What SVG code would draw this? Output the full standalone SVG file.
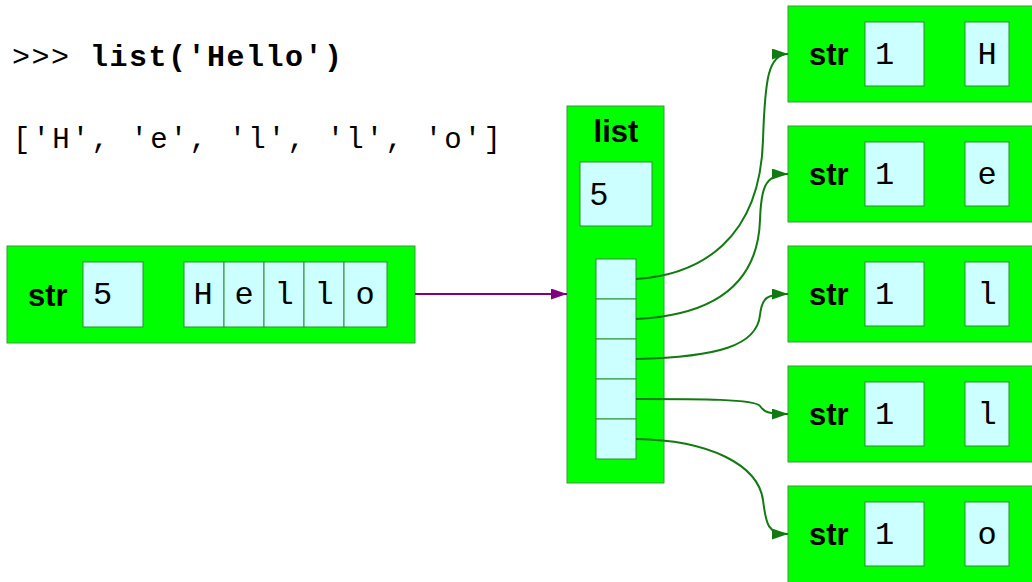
<svg xmlns="http://www.w3.org/2000/svg" width="1032" height="582" viewBox="0 0 1032 582">
<style>
.obj{fill:#00ff00;stroke:#3a9a3a;stroke-width:1}
.cell{fill:#ccffff;stroke:#2f8f2f;stroke-width:1}
.lbl{font-family:"Liberation Sans",Arial,sans-serif;font-weight:bold;font-size:31px;fill:#000}
.mono{font-family:"Liberation Mono","Courier New",monospace;font-size:32px;fill:#000}
.code{font-family:"Liberation Mono","Courier New",monospace;font-size:29px;letter-spacing:2.2px;fill:#000}
.num{font-family:"Liberation Sans",Arial,sans-serif;font-size:32px;fill:#000}
.ref{fill:none;stroke:#117a11;stroke-width:2}
</style>
<defs>
<marker id="ga" markerUnits="userSpaceOnUse" markerWidth="17" markerHeight="12" refX="16" refY="5.5" orient="auto"><path d="M0,0 L16,5.5 L0,11 z" fill="#117a11"/></marker>
<marker id="pa" markerUnits="userSpaceOnUse" markerWidth="17" markerHeight="12" refX="16" refY="5.5" orient="auto"><path d="M0,0 L16,5.5 L0,11 z" fill="#800080"/></marker>
</defs>
<g id="prompt">
<text class="code" x="12" y="66" style="font-size:30px;letter-spacing:1.5px">&gt;&gt;&gt; <tspan font-weight="bold">list('Hello')</tspan></text>
<text class="code" x="13" y="148">['H', 'e', 'l', 'l', 'o']</text>
</g>
<g id="str-hello">
<rect class="obj" x="7" y="246" width="408" height="97"/>
<text class="lbl" x="28" y="306">str</text>
<rect class="cell" x="83" y="262" width="60" height="65"/>
<text class="mono" x="93" y="304">5</text>
<rect class="cell" x="184" y="262" width="40" height="65"/>
<rect class="cell" x="224" y="262" width="40" height="65"/>
<rect class="cell" x="264" y="262" width="40" height="65"/>
<rect class="cell" x="304" y="262" width="40" height="65"/>
<rect class="cell" x="344" y="262" width="43" height="65"/>
<text class="mono" x="203" y="304" text-anchor="middle">H</text>
<text class="mono" x="244" y="304" text-anchor="middle">e</text>
<text class="mono" x="284" y="304" text-anchor="middle">l</text>
<text class="mono" x="324" y="304" text-anchor="middle">l</text>
<text class="mono" x="365" y="304" text-anchor="middle">o</text>
</g>
<g id="list">
<rect class="obj" x="567" y="106" width="97" height="377"/>
<text class="lbl" x="616" y="142" text-anchor="middle">list</text>
<rect class="cell" x="580" y="162" width="72" height="64"/>
<text class="num" x="590" y="205">5</text>
<rect class="cell" x="596" y="259" width="40" height="40"/>
<rect class="cell" x="596" y="299" width="40" height="40"/>
<rect class="cell" x="596" y="339" width="40" height="40"/>
<rect class="cell" x="596" y="379" width="40" height="40"/>
<rect class="cell" x="596" y="419" width="40" height="40"/>
</g>
<g id="str-H">
<rect class="obj" x="788" y="6" width="260" height="96"/>
<text class="lbl" x="809" y="65">str</text>
<rect class="cell" x="865" y="22" width="59" height="64"/>
<text class="mono" x="875" y="64">1</text>
<rect class="cell" x="965" y="22" width="44" height="64"/>
<text class="mono" x="987" y="64" text-anchor="middle">H</text>
</g>
<g id="str-e">
<rect class="obj" x="788" y="126" width="260" height="96"/>
<text class="lbl" x="809" y="185">str</text>
<rect class="cell" x="865" y="142" width="59" height="64"/>
<text class="mono" x="875" y="184">1</text>
<rect class="cell" x="965" y="142" width="44" height="64"/>
<text class="mono" x="987" y="184" text-anchor="middle">e</text>
</g>
<g id="str-l1">
<rect class="obj" x="788" y="246" width="260" height="96"/>
<text class="lbl" x="809" y="305">str</text>
<rect class="cell" x="865" y="262" width="59" height="64"/>
<text class="mono" x="875" y="304">1</text>
<rect class="cell" x="965" y="262" width="44" height="64"/>
<text class="mono" x="987" y="304" text-anchor="middle">l</text>
</g>
<g id="str-l2">
<rect class="obj" x="788" y="366" width="260" height="96"/>
<text class="lbl" x="809" y="425">str</text>
<rect class="cell" x="865" y="382" width="59" height="64"/>
<text class="mono" x="875" y="424">1</text>
<rect class="cell" x="965" y="382" width="44" height="64"/>
<text class="mono" x="987" y="424" text-anchor="middle">l</text>
</g>
<g id="str-o">
<rect class="obj" x="788" y="486" width="260" height="110"/>
<text class="lbl" x="809" y="545">str</text>
<rect class="cell" x="865" y="502" width="59" height="64"/>
<text class="mono" x="875" y="544">1</text>
<rect class="cell" x="965" y="502" width="44" height="64"/>
<text class="mono" x="987" y="544" text-anchor="middle">o</text>
</g>
<g id="connectors">
<line x1="415" y1="294" x2="567" y2="294" stroke="#800080" stroke-width="2" marker-end="url(#pa)"/>
<path class="ref" d="M636,279 C700,275 760,240 763,140 C765,80 768,54 788,54" marker-end="url(#ga)"/>
<path class="ref" d="M636,319 C720,315 758,280 760,220 C761,190 764,174 788,174" marker-end="url(#ga)"/>
<path class="ref" d="M636,359 C720,357 757,345 760,315 C762,298 766,294 788,294" marker-end="url(#ga)"/>
<path class="ref" d="M636,399 C700,399 755,399 760,406 C764,412 768,414 788,414" marker-end="url(#ga)"/>
<path class="ref" d="M636,439 C710,440 758,465 763,500 C766,525 768,534 788,534" marker-end="url(#ga)"/>
</g>
</svg>
